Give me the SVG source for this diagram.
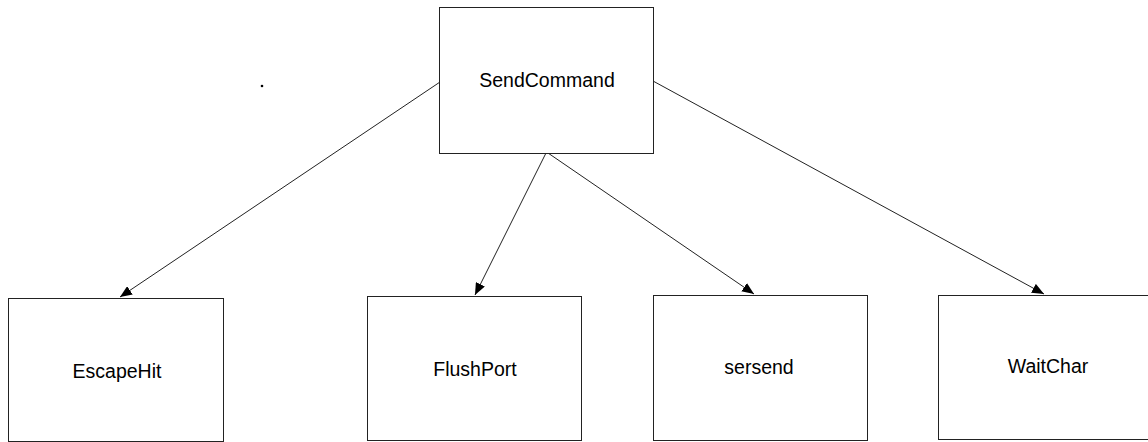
<svg xmlns="http://www.w3.org/2000/svg" width="1148" height="442" viewBox="0 0 1148 442">
  <style>
    .box { fill: #ffffff; stroke: #222222; stroke-width: 1; }
    .label { font-family: "Liberation Sans", Arial, sans-serif; font-size: 19.5px; fill: #000000; text-anchor: middle; }
    .conn { fill: none; stroke: #222222; stroke-width: 1; }
  </style>
  <defs>
    <marker id="arrow" viewBox="0 0 12 10" refX="12" refY="5" markerWidth="12" markerHeight="10" markerUnits="userSpaceOnUse" orient="auto">
      <path d="M0,0 L12,5 L0,10 Z" fill="#000000"/>
    </marker>
  </defs>
  <rect width="1148" height="442" fill="#ffffff"/>
  <circle cx="262" cy="86" r="1.3" fill="#000000"/>

  <g id="connectors">
    <line class="conn" x1="440" y1="82" x2="120" y2="297" marker-end="url(#arrow)"/>
    <line class="conn" x1="546" y1="153" x2="475" y2="295" marker-end="url(#arrow)"/>
    <line class="conn" x1="548" y1="153" x2="754" y2="294" marker-end="url(#arrow)"/>
    <line class="conn" x1="653" y1="81" x2="1044" y2="294" marker-end="url(#arrow)"/>
  </g>

  <g id="node-sendcommand">
    <rect class="box" x="439.5" y="7.5" width="214" height="146"/>
    <text class="label" x="547" y="87">SendCommand</text>
  </g>
  <g id="node-escapehit">
    <rect class="box" x="8.5" y="298.5" width="215" height="143"/>
    <text class="label" x="117" y="378">EscapeHit</text>
  </g>
  <g id="node-flushport">
    <rect class="box" x="367.5" y="296.5" width="214" height="144"/>
    <text class="label" x="475" y="376">FlushPort</text>
  </g>
  <g id="node-sersend">
    <rect class="box" x="653.5" y="295.5" width="214" height="145"/>
    <text class="label" x="759" y="374">sersend</text>
  </g>
  <g id="node-waitchar">
    <rect class="box" x="938.5" y="295.5" width="214" height="144"/>
    <text class="label" x="1048" y="373">WaitChar</text>
  </g>
</svg>
